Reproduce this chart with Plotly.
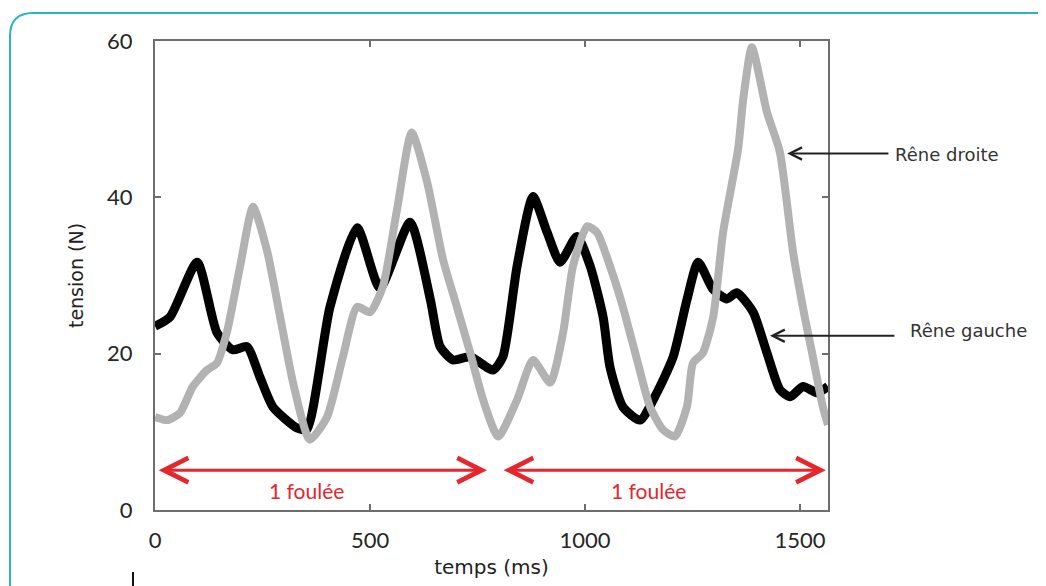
import plotly.graph_objects as go

# ---- data ----
t_gauche = [0, 35, 98, 144, 181, 214, 244, 274, 330, 353, 407, 470, 523, 593, 640, 663, 693,
            733, 786, 809, 842, 879, 912, 942, 981, 1012, 1042, 1058, 1088, 1128, 1167, 1205,
            1237, 1263, 1298, 1330, 1353, 1391, 1423, 1453, 1477, 1507, 1540, 1565]
gauche = [23.5, 24.7, 31.7, 22.7, 20.5, 20.9, 17.0, 13.2, 10.5, 10.3, 26.0, 36.1, 28.4, 36.8,
          27.0, 20.9, 19.2, 19.6, 17.9, 19.6, 31.2, 40.1, 35.5, 31.7, 35.0, 31.2, 24.7, 18.3,
          13.2, 11.5, 15.0, 19.6, 26.9, 31.7, 28.2, 27.0, 27.8, 25.3, 20.1, 15.4, 14.5, 15.8,
          15.0, 15.8]

t_droite = [0, 28, 58, 88, 121, 144, 167, 198, 228, 260, 291, 321, 360, 400, 437, 470, 500,
            530, 563, 597, 633, 670, 702, 733, 763, 798, 842, 879, 919, 949, 972, 1005, 1028,
            1058, 1088, 1121, 1151, 1181, 1209, 1237, 1251, 1274, 1298, 1321, 1356, 1368, 1388,
            1423, 1453, 1484, 1512, 1528, 1553, 1565]
droite = [11.9, 11.5, 12.4, 15.8, 17.9, 18.8, 22.7, 31.2, 38.8, 33.3, 24.7, 16.3, 9.0, 11.9,
          19.6, 26.0, 25.3, 28.6, 38.5, 48.3, 41.9, 32.0, 26.0, 20.1, 14.1, 9.4, 14.1, 19.2,
          16.3, 22.7, 31.2, 36.3, 35.5, 31.2, 26.0, 19.2, 13.2, 10.3, 9.4, 13.2, 18.8, 20.1,
          24.7, 35.5, 46.2, 52.6, 59.2, 50.9, 45.8, 32.9, 24.4, 20.1, 13.2, 10.9]

x_ticks = [0, 500, 1000, 1500]
y_ticks = [0, 20, 40, 60]
foulees = [(5, 772), (807, 1560)]
foulee_label = "1 foulée"
series_labels = ["Rêne droite", "Rêne gauche"]

# the page shows the figure with an 8px body margin
OFF = 8
W, H = 1046 - OFF, 586 - OFF
L, R, T, B = 155, 828, 41, 510  # plot-area edges in the reference picture


def px(xp):
    return (xp - L) / (R - L)


def py(yp):
    return (B - yp) / (B - T)


fig = go.Figure()
fig.add_trace(go.Scatter(x=t_gauche, y=gauche, mode="lines", name=series_labels[1],
                         line=dict(color="#000000", width=9, shape="spline", smoothing=0.6)))
fig.add_trace(go.Scatter(x=t_droite, y=droite, mode="lines", name=series_labels[0],
                         line=dict(color="#b2b2b2", width=8, shape="spline", smoothing=0.6)))

axis_common = dict(showline=True, mirror="ticks", linecolor="#6e6e6e", linewidth=2,
                   ticks="inside", ticklen=6, tickwidth=2, tickcolor="#6e6e6e",
                   showgrid=False, zeroline=False,
                   tickfont=dict(family="Lato", size=22, color="#262626"))

fig.update_xaxes(range=[0, 1565], tickvals=x_ticks, ticklabelstandoff=10,
                 title=dict(text="temps (ms)", standoff=8,
                            font=dict(family="DejaVu Sans", size=20, color="#222222")),
                 **axis_common)
fig.update_yaxes(range=[0, 60], tickvals=y_ticks, ticklabelstandoff=16,
                 title=dict(text="tension (N)", standoff=18,
                            font=dict(family="DejaVu Sans", size=19, color="#222222")),
                 **axis_common)

anns = []
red = "#e5262c"
for (a, b) in foulees:
    anns.append(dict(x=b, y=5.1, ax=a, ay=5.1, xref="x", yref="y", axref="x", ayref="y",
                     text="", showarrow=True, arrowside="end+start", arrowhead=5,
                     startarrowhead=5, arrowsize=1.6, startarrowsize=1.6, arrowwidth=3,
                     arrowcolor=red))
    anns.append(dict(x=(a + b) / 2 - 36, y=2.5, xref="x", yref="y", text=foulee_label,
                     showarrow=False, font=dict(family="Lato", size=21, color=red)))

# label arrows
anns.append(dict(x=1470, y=45.6, ax=1709, ay=45.6, xref="x", yref="y", axref="x", ayref="y",
                 text="", showarrow=True, arrowhead=5, arrowsize=1.2, arrowwidth=2,
                 arrowcolor="#222222"))
anns.append(dict(x=px(893), y=py(154), xref="paper", yref="paper", xanchor="left",
                 yanchor="middle", text=series_labels[0], showarrow=False,
                 font=dict(family="DejaVu Sans", size=18, color="#333333")))
anns.append(dict(x=1430, y=22.3, ax=1723, ay=22.3, xref="x", yref="y", axref="x", ayref="y",
                 text="", showarrow=True, arrowhead=5, arrowsize=1.2, arrowwidth=2,
                 arrowcolor="#222222"))
anns.append(dict(x=px(908), y=py(330), xref="paper", yref="paper", xanchor="left",
                 yanchor="middle", text=series_labels[1], showarrow=False,
                 font=dict(family="DejaVu Sans", size=18, color="#333333")))

# teal rounded frame around the whole figure
path = (f"M {px(10)},{py(620)} L {px(10)},{py(36)} Q {px(10)},{py(13)} {px(33)},{py(13)} "
        f"L {px(1070)},{py(13)}")
shapes = [dict(type="path", path=path, xref="paper", yref="paper",
               line=dict(color="#29b3c1", width=2)),
          dict(type="line", xref="paper", yref="paper", x0=px(133), x1=px(133),
               y0=py(572), y1=py(590), line=dict(color="#111111", width=2))]

fig.update_layout(width=W, height=H,
                  margin=dict(l=L - OFF, r=W - (R - OFF), t=T - OFF, b=H - (B - OFF)),
                  paper_bgcolor="white", plot_bgcolor="white", showlegend=False,
                  annotations=anns, shapes=shapes)

fig.write_html("out.html")
